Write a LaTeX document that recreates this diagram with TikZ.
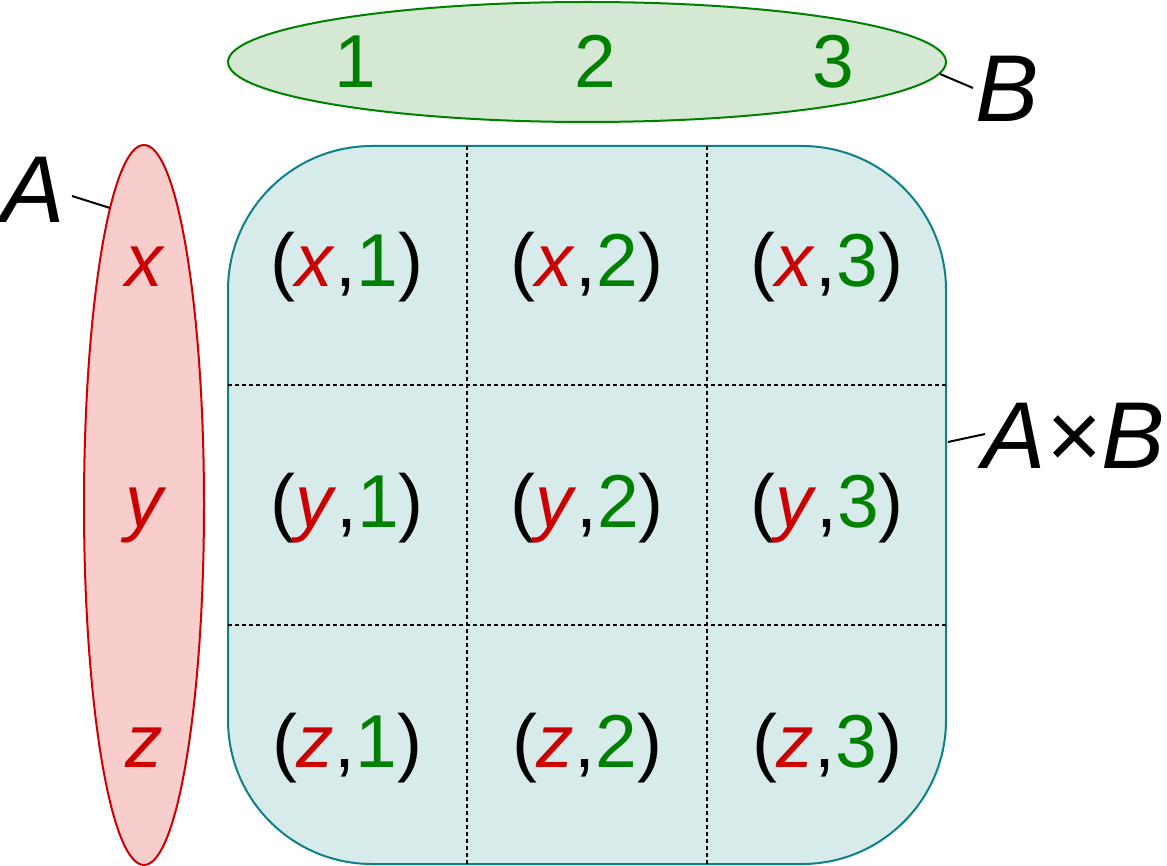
\documentclass[tikz,border=0pt]{standalone}
\usepackage{fontspec}
\setmainfont{Liberation Sans}
\usetikzlibrary{shapes.geometric}
\definecolor{setgreen}{HTML}{008000}
\definecolor{setred}{HTML}{CC0000}
\definecolor{gfill}{HTML}{D5E8D4}
\definecolor{rfill}{HTML}{F8CECC}
\definecolor{tfill}{HTML}{D8EBEB}
\definecolor{tstroke}{HTML}{0E8088}
\newcommand{\mycell}[2]{({\color{setred}\textit{#1}},{\color{setgreen}#2})}
\tikzset{
  celltext/.style={inner sep=0pt, anchor=base, font=\fontsize{75}{90}\selectfont},
  elemtext/.style={inner sep=0pt, anchor=base, text=setred, font=\fontsize{75}{90}\selectfont\itshape},
  biglabel/.style={inner sep=0pt, anchor=base west, font=\fontsize{95}{114}\selectfont\itshape},
  gridline/.style={line width=2.2pt, dash pattern=on 4pt off 3pt},
  leader/.style={line width=2pt},
}
\begin{document}
\begin{tikzpicture}[x=1pt,y=-1pt]
\useasboundingbox (0,0) rectangle (1167,866);
% sets
\node[ellipse, draw=setgreen, fill=gfill, line width=2pt, minimum width=718pt, minimum height=120pt, inner sep=0pt] (Bset) at (587,62) {};
\node[ellipse, draw=setred, fill=rfill, line width=2pt, minimum width=120pt, minimum height=720pt, inner sep=0pt] (Aset) at (144,505) {};
\draw[draw=tstroke, fill=tfill, line width=2pt, rounded corners=144pt] (228,146) rectangle (946,864);
\node[inner sep=0pt, minimum width=718pt, minimum height=718pt] (AB) at (587,505) {};
% grid
\draw[gridline] (467,146) -- (467,864);
\draw[gridline] (707,146) -- (707,864);
\draw[gridline] (228,385) -- (946,385);
\draw[gridline] (228,625) -- (946,625);
% elements of B
\node[celltext, text=setgreen] (b1) at (355,88) {1};
\node[celltext, text=setgreen] (b2) at (595,88) {2};
\node[celltext, text=setgreen] (b3) at (833,88) {3};
% elements of A
\node[elemtext] (ax) at (144,287) {x};
\node[elemtext] (ay) at (144,527) {y};
\node[elemtext] (az) at (144,767) {z};
% pairs
\node[celltext] (c11) at (347,287) {\mycell{x}{1}};
\node[celltext] (c12) at (587,287) {\mycell{x}{2}};
\node[celltext] (c13) at (827,287) {\mycell{x}{3}};
\node[celltext] (c21) at (347,527) {\mycell{y}{1}};
\node[celltext] (c22) at (587,527) {\mycell{y}{2}};
\node[celltext] (c23) at (827,527) {\mycell{y}{3}};
\node[celltext] (c31) at (347,767) {\mycell{z}{1}};
\node[celltext] (c32) at (587,767) {\mycell{z}{2}};
\node[celltext] (c33) at (827,767) {\mycell{z}{3}};
% labels
\node[biglabel] (Blab) at (975,122) {B};
\node[biglabel] (Alab) at (1,223) {A};
\node[biglabel] (ABlab) at (982,468) {A×B};
% leaders
\coordinate (Bend) at (940,74);
\coordinate (Bstart) at (973,88);
\coordinate (Aend) at (110,208);
\coordinate (Astart) at (72,196);
\coordinate (ABend) at (948,442);
\coordinate (ABstart) at (985,434);
\draw[leader] (Bend) -- (Bstart);
\draw[leader] (Astart) -- (Aend);
\draw[leader] (ABend) -- (ABstart);
\end{tikzpicture}
\end{document}
